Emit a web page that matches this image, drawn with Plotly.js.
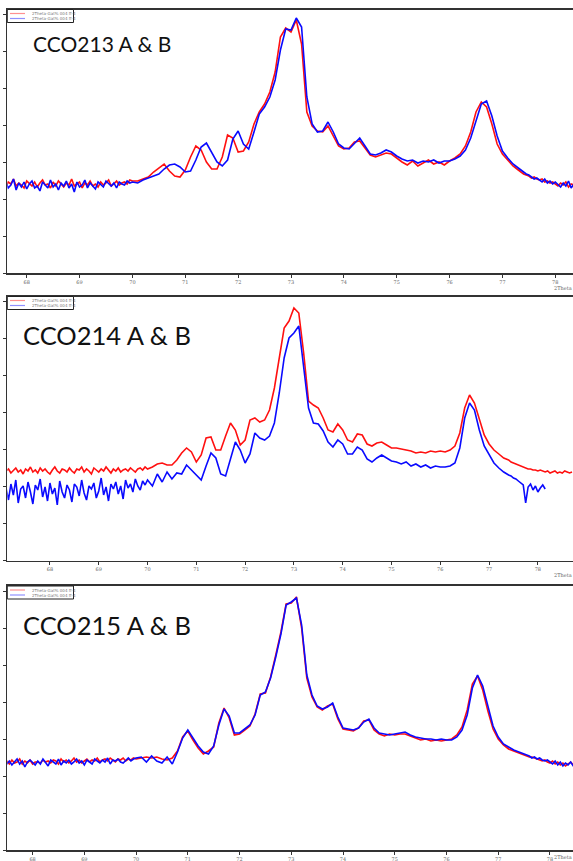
<!DOCTYPE html>
<html><head><meta charset="utf-8">
<script src="https://cdn.plot.ly/plotly-3.0.1.min.js"></script>
<style>html,body{margin:0;padding:0;background:#fff;overflow:hidden}#chart{width:573px;height:861px}</style>
</head><body><div id="chart"></div>
<script>
// 2Theta sampling (degrees): fine steps in the noisy tails, coarser over the peaks
const twoTheta = [
 67.10,67.15,67.20,67.25,67.30,67.35,67.40,67.45,67.50,67.55,
 67.60,67.65,67.70,67.75,67.80,67.85,67.90,67.95,68.00,68.05,
 68.10,68.15,68.20,68.25,68.30,68.35,68.40,68.45,68.50,68.55,
 68.60,68.65,68.70,68.75,68.80,68.85,68.90,68.95,69.00,69.05,
 69.10,69.15,69.20,69.25,69.30,69.35,69.40,69.45,69.50,69.55,
 69.60,69.65,69.70,69.75,69.80,69.85,69.90,69.95,
 70.0,70.1,70.2,70.3,70.4,70.5,70.6,70.7,70.8,70.9,
 71.0,71.1,71.2,71.3,71.4,71.5,71.6,71.7,71.8,71.9,
 72.0,72.1,72.2,72.3,72.4,72.5,72.6,72.7,72.8,72.9,
 73.0,73.1,73.2,73.3,73.4,73.5,73.6,73.7,73.8,73.9,
 74.0,74.1,74.2,74.3,74.4,74.5,74.6,74.7,74.8,74.9,
 75.0,75.1,75.2,75.3,75.4,75.5,75.6,75.7,75.8,75.9,
 76.0,76.1,76.2,76.3,76.4,76.5,76.6,76.7,76.8,76.9,
 77.0,77.1,77.2,77.3,77.4,
 77.45,77.50,77.55,77.60,77.65,77.70,77.75,77.80,77.85,77.90,
 77.95,78.00,78.05,78.10,78.15,78.20,78.25,78.30,78.35,78.40,
 78.45,78.50,78.55,78.60,78.65,78.70];

const tickValues = [68,69,70,71,72,73,74,75,76,77,78];
const tickLabels = ['68','69','70','71','72','73','74','75','76','77','78'];
const sampleNames = ['CCO213 A & B','CCO214 A & B','CCO215 A & B'];
const seriesLabels = ['2Theta-Gat% 004 ff-4','2Theta-Gat% 004 ff-4'];
const axisName = '2Theta';

// intensities (arb. units)
const cco213A = [
 88,91,86,89,84,90,87,92,86,89, 85,90,88,93,86,89,87,84,91,88,
 86,90,85,89,92,87,88,84,90,86, 91,88,85,89,87,93,86,88,90,84,
 89,87,91,86,88,85,90,87,89,92, 86,88,91,87,89,90,88,92,
 91,91,93,95,100,104,108,101,96,95,
 102,115,126,122,110,103,103,115,137,134,
 120,121,130,148,160,168,180,200,235,244,
 240,252,228,160,146,141,140,146,136,126,
 123,124,130,131,124,117,115,117,119,118,
 114,110,107,111,106,109,112,108,110,107,
 111,114,118,126,140,160,170,165,148,128,
 118,112,106,102,98,
 97,96,94,95,93,92,93,90,91,89, 90,88,86,89,87,90,85,88,87,89, 86,88,90,86,87,89];
const cco213B = [
 86,82,90,85,92,83,88,80,89,86, 91,84,87,93,82,89,85,90,83,88,
 91,84,86,81,90,87,84,92,85,88, 82,89,86,91,84,88,80,90,85,87,
 92,84,89,86,83,90,87,85,91,88, 86,89,84,90,88,87,91,89,
 90,89,92,94,96,98,103,107,108,105,
 100,101,112,125,129,120,110,106,112,133,
 141,128,123,140,158,165,175,192,222,243,
 242,254,245,175,148,140,141,150,140,128,
 124,123,129,134,126,118,117,119,122,120,
 116,113,111,112,109,111,110,112,109,111,
 111,113,116,122,134,152,168,171,156,136,
 121,114,108,104,100,
 98,97,95,93,94,92,90,93,89,91, 88,90,87,85,89,86,91,84,88,86, 90,85,88,86,89,87];
const cco214A = [
 87,89,85,88,90,86,88,84,89,87, 91,86,88,85,90,87,89,86,84,88,
 91,87,85,89,88,86,90,87,85,89, 88,91,86,89,87,84,90,88,86,89,
 87,91,88,85,89,87,90,86,88,89, 87,90,88,86,89,90,88,91,
 89,91,94,95,93,93,98,105,110,106,
 96,103,120,121,108,108,122,135,128,113,
 118,138,140,136,138,148,170,200,230,237,
 250,245,205,157,153,150,140,128,126,134,
 128,118,116,124,123,114,112,115,116,113,
 110,110,109,108,107,105,106,105,107,106,
 107,106,108,112,125,150,163,155,138,123,
 114,108,104,100,98,
 96,95,94,93,92,91,90,89,89,88, 88,87,88,87,86,87,85,86,87,85, 86,85,87,86,85,86];
const cco214B = [
 70,58,74,63,78,55,69,72,60,76, 66,54,73,68,79,61,71,57,75,64,
 70,53,77,66,60,73,68,56,74,71, 62,78,65,58,72,69,75,60,67,80,
 63,71,57,74,69,76,64,72,59,78, 70,74,66,79,72,68,77,73,
 78,72,84,76,86,79,85,84,93,88,
 84,78,92,105,100,84,82,100,116,108,
 95,104,125,120,118,122,135,165,200,220,
 225,232,190,150,135,134,127,116,111,118,
 114,104,104,111,108,99,96,100,103,100,
 97,96,94,96,92,94,91,93,90,92,
 91,91,92,95,110,140,155,148,128,112,
 103,95,90,86,83,
 82,80,79,77,75,73,55,71,74,68, 72,66,70,73,69,null,null,null,null,null, null,null,null,null,null,null];
const cco215A = [
 87,89,88,90,86,88,91,87,89,86, 90,87,88,91,86,89,87,90,86,88,
 88,87,90,88,89,87,90,89,86,91, 88,90,87,89,92,88,90,87,89,91,
 88,90,89,92,88,90,91,89,92,90, 88,91,90,92,89,91,90,92,
 91,92,93,92,93,91,90,92,99,113,
 119,110,102,96,99,103,127,142,132,115,
 116,120,124,136,156,157,173,195,218,246,
 247,253,222,172,153,143,140,144,146,131,
 121,120,119,122,129,130,120,116,114,116,
 115,116,116,114,112,110,111,109,110,109,
 110,111,115,123,140,166,174,160,139,121,
 111,105,101,99,97,
 96,95,94,93,93,92,91,90,89,90, 88,87,89,86,88,85,87,84,86,88, 85,83,86,84,85,86];
const cco215B = [
 88,86,90,85,89,87,84,90,86,89, 85,88,91,86,89,83,88,90,87,85,
 89,86,91,87,84,90,88,86,91,85, 89,87,90,86,88,91,87,89,85,90,
 88,86,91,89,87,90,88,92,86,90, 89,91,88,87,90,92,89,91,
 92,93,88,94,89,87,93,86,98,112,
 120,112,104,98,96,104,125,141,134,117,
 117,121,125,135,155,158,172,193,216,245,
 248,252,225,175,155,144,141,143,147,133,
 122,121,120,122,128,131,122,117,116,115,
 116,117,118,115,113,112,111,111,110,111,
 110,110,113,120,135,162,175,164,143,124,
 113,106,103,100,98,
 97,96,95,94,92,93,91,92,90,89, 90,88,86,89,85,88,84,87,85,88, 84,86,83,86,85,84];

const W = 573, H = 861;
const px = v => v / W, py = v => 1 - v / H;

// panel geometry (pixels)
const panels = [
  {top: 9.5, bottom: 273, xr: [67.633, 78.335], yr: [-1, 262.5], tick0: -1, A: cco213A, B: cco213B, tx: 31, ty: 43, fs: 21, ay: 288},
  {top: 296.5, bottom: 560.5, xr: [67.126, 78.72], yr: [-2.5, 261.5], tick0: -2.5, A: cco214A, B: cco214B, tx: 21, ty: 335, fs: 25.5, ay: 575},
  {top: 586, bottom: 850, xr: [67.511, 78.445], yr: [0, 264], tick0: 0, A: cco215A, B: cco215B, tx: 21, ty: 625, fs: 25.5, ay: 857}
];

const data = [];
const layout = {
  width: W, height: H, margin: {l: 0, r: 0, t: 0, b: 0},
  paper_bgcolor: '#fff', plot_bgcolor: '#fff', showlegend: false,
  annotations: [], shapes: []
};

panels.forEach((p, i) => {
  const n = i === 0 ? '' : String(i + 1);
  const xa = 'x' + n, ya = 'y' + n;
  data.push({x: twoTheta, y: p.A, xaxis: xa, yaxis: ya, type: 'scatter', mode: 'lines',
    name: seriesLabels[0], line: {color: '#ff1010', width: 1.6}, connectgaps: false});
  data.push({x: twoTheta, y: p.B, xaxis: xa, yaxis: ya, type: 'scatter', mode: 'lines',
    name: seriesLabels[1], line: {color: '#0a0aff', width: 1.6}, connectgaps: false});
  layout['xaxis' + n] = {
    domain: [7.3 / W, 1], anchor: ya, range: p.xr, showgrid: false, zeroline: false,
    showline: true, linecolor: '#333', linewidth: 1.6, mirror: true,
    ticks: 'outside', ticklen: 3, tickwidth: 1, tickcolor: '#333',
    tickmode: 'array', tickvals: tickValues, ticktext: tickLabels,
    tickfont: {size: 5, color: '#666', family: 'DejaVu Serif'}
  };
  layout['yaxis' + n] = {
    domain: [py(p.bottom), py(p.top)], anchor: xa, range: p.yr, showgrid: false, zeroline: false,
    showline: true, linecolor: '#333', linewidth: 1.6,
    ticks: 'outside', ticklen: 3, tickwidth: 1, tickcolor: '#333',
    tickmode: 'linear', tick0: p.tick0, dtick: 37, showticklabels: false
  };
  layout.annotations.push({xref: 'paper', yref: 'paper', x: px(p.tx), y: py(p.ty), xanchor: 'left', yanchor: 'middle',
    text: sampleNames[i], showarrow: false, font: {family: 'Lato', size: p.fs, color: '#111'}});
  layout.annotations.push({xref: 'paper', yref: 'paper', x: px(573), y: py(p.ay), xanchor: 'right', yanchor: 'middle',
    text: axisName, showarrow: false, borderpad: 0, font: {family: 'DejaVu Serif', size: 5, color: '#666'}});
  const lt = p.top;
  layout.shapes.push({type: 'rect', xref: 'paper', yref: 'paper', x0: px(7.3), x1: px(73.5), y0: py(lt + 13), y1: py(lt),
    line: {color: '#222', width: 1}, fillcolor: '#fff'});
  layout.shapes.push({type: 'line', xref: 'paper', yref: 'paper', x0: px(10), x1: px(25), y0: py(lt + 4), y1: py(lt + 4),
    line: {color: '#ff9090', width: 1.2}});
  layout.shapes.push({type: 'line', xref: 'paper', yref: 'paper', x0: px(10), x1: px(25), y0: py(lt + 9), y1: py(lt + 9),
    line: {color: '#9090ff', width: 1.2}});
  layout.annotations.push({xref: 'paper', yref: 'paper', x: px(30), y: py(lt + 4), xanchor: 'left', yanchor: 'middle',
    text: seriesLabels[0], showarrow: false, font: {family: 'DejaVu Sans', size: 4, color: '#777'}});
  layout.annotations.push({xref: 'paper', yref: 'paper', x: px(30), y: py(lt + 9), xanchor: 'left', yanchor: 'middle',
    text: seriesLabels[1], showarrow: false, font: {family: 'DejaVu Sans', size: 4, color: '#777'}});
});

Plotly.newPlot('chart', data, layout, {staticPlot: true, displayModeBar: false});
</script>
</body></html>
